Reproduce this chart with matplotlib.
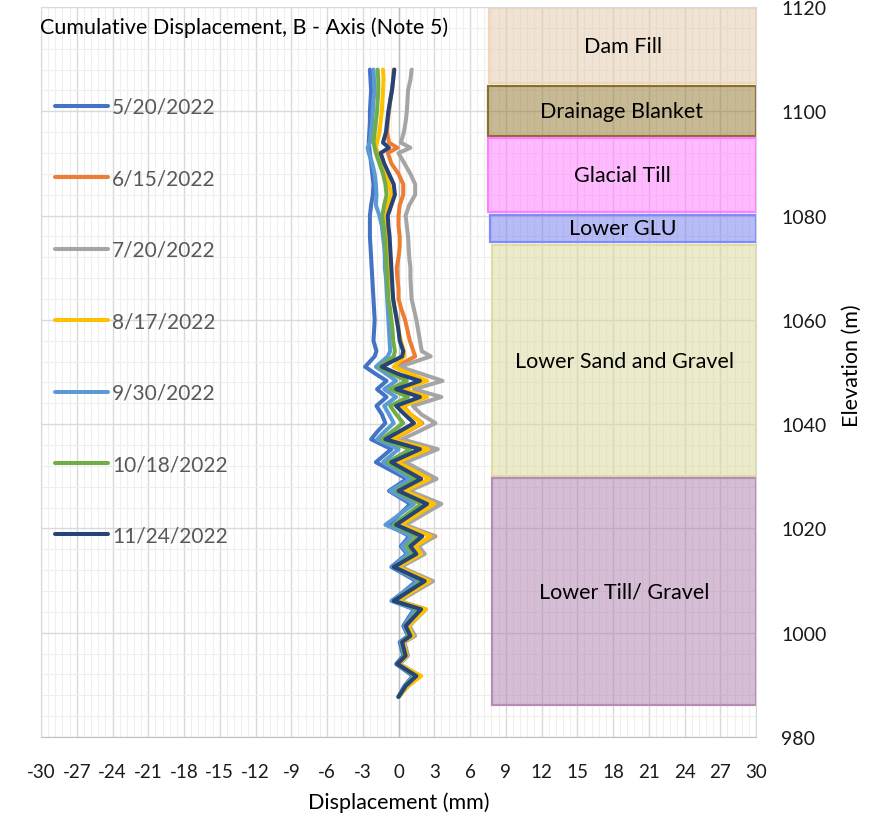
import matplotlib
matplotlib.use('Agg')
import matplotlib.pyplot as plt
from matplotlib.patches import Rectangle
from matplotlib.ticker import MultipleLocator

plt.rcParams['font.family'] = ['Lato', 'DejaVu Sans']

# ---------------- data ----------------
elevation = [1108, 1106, 1104, 1102, 1100, 1098, 1096, 1094, 1093, 1092,
             1090, 1088, 1086, 1084, 1082, 1080, 1078, 1076, 1074, 1072,
             1070, 1068, 1066, 1064, 1062, 1060, 1058, 1056, 1054, 1053,
             1051.0, 1049.6, 1048.3, 1046.7, 1045.2, 1043.5, 1041.9, 1040.2, 1038.5, 1037.1,
             1035.2, 1032.7, 1029.5, 1027.2, 1024.7, 1020.7, 1018.5, 1016.6, 1015.1, 1012.6,
             1009.9, 1006.1, 1004.5, 1001.3, 999.4, 998.2, 995.6, 994.0, 991.7, 989.8, 987.7]

d_0520 = [-2.40, -2.35, -2.30, -2.35, -2.40, -2.40, -2.45, -2.50, -2.45, -2.40,
          -2.30, -2.20, -2.10, -2.15, -2.30, -2.40, -2.40, -2.40, -2.35, -2.30,
          -2.25, -2.20, -2.15, -2.10, -2.05, -2.00, -2.05, -2.10, -1.85, -2.00,
          -2.80, -1.90, -1.00, -1.80, -1.00, -1.85, -1.40, -1.10, -1.80, -2.30,
          -0.60, -1.90, 0.70, -0.80, 1.00, -0.80, 0.90, 0.20, 0.70, -0.60,
          1.50, -0.50, 1.30, 0.40, 0.80, 0.10, 0.40, -0.20, 1.20, 0.50, 0.00]
d_0615 = [-0.40, -0.45, -0.55, -0.70, -0.80, -0.90, -0.95, -0.80, -0.10, -0.90,
          -0.60, 0.00, 0.40, 0.40, 0.10, 0.00, 0.00, 0.10, 0.10, 0.00,
          -0.15, -0.10, 0.00, 0.00, 0.25, 0.55, 0.75, 0.95, 1.25, 1.40,
          -0.20, 1.00, 2.10, 0.40, 2.20, 0.40, 1.00, 2.00, 0.70, -0.50,
          2.80, 0.00, 2.90, 0.50, 3.10, 0.30, 3.10, 1.50, 1.90, 0.00,
          2.70, -0.10, 2.20, 0.80, 1.20, 0.40, 0.70, 0.00, 1.80, 0.80, 0.00]
d_0720 = [1.10, 1.00, 0.80, 0.75, 0.70, 0.60, 0.45, 0.20, 1.00, 0.00,
          0.50, 1.00, 1.40, 1.40, 0.90, 0.60, 0.70, 0.80, 0.85, 0.90,
          1.00, 1.00, 1.05, 1.10, 1.30, 1.50, 1.65, 1.80, 1.95, 2.70,
          0.10, 2.00, 3.70, 1.30, 3.60, 1.20, 1.90, 3.10, 1.60, 0.30,
          3.30, 0.60, 3.20, 0.90, 3.60, 0.60, 3.00, 1.70, 2.20, 0.20,
          2.90, 0.10, 2.30, 0.90, 1.40, 0.50, 0.80, 0.10, 1.80, 0.80, 0.00]
d_0817 = [-1.30, -1.25, -1.30, -1.35, -1.40, -1.50, -1.60, -1.80, -1.90, -1.70,
          -1.50, -1.10, -0.80, -0.60, -0.90, -1.00, -0.95, -0.85, -0.80, -0.75,
          -0.70, -0.65, -0.55, -0.45, -0.30, -0.10, 0.00, 0.20, 0.45, 0.50,
          -0.40, 1.00, 2.40, 0.30, 2.40, 0.30, 1.00, 1.90, 0.60, -0.60,
          2.50, -0.10, 2.60, 0.50, 3.00, 0.20, 2.70, 1.40, 1.90, -0.10,
          2.60, -0.10, 2.30, 0.80, 1.20, 0.40, 0.70, 0.00, 1.90, 0.80, 0.00]
d_0930 = [-2.10, -2.05, -2.00, -2.10, -2.15, -2.20, -2.30, -2.40, -2.60, -2.50,
          -2.20, -2.00, -1.90, -1.85, -1.90, -1.60, -1.40, -1.30, -1.20, -1.15,
          -1.15, -1.05, -1.00, -0.95, -0.90, -0.85, -0.80, -0.75, -0.70, -0.90,
          -1.90, -1.00, -0.20, -1.20, -0.20, -1.20, -0.80, -0.40, -1.20, -1.80,
          0.00, -1.30, 1.00, -0.70, 1.30, -1.10, 1.10, 0.30, 0.80, -0.50,
          1.70, -0.60, 1.40, 0.50, 0.80, 0.20, 0.50, -0.10, 1.30, 0.50, 0.00]
d_1018 = [-1.75, -1.70, -1.70, -1.75, -1.80, -1.90, -2.00, -2.10, -2.00, -1.90,
          -1.60, -1.30, -1.10, -1.00, -1.20, -1.35, -1.25, -1.15, -1.10, -1.05,
          -1.00, -0.95, -0.90, -0.85, -0.70, -0.60, -0.50, -0.45, -0.30, -0.40,
          -1.60, -0.50, 0.70, -0.70, 0.80, -0.70, -0.20, 0.40, -0.60, -1.40,
          1.00, -0.90, 1.50, -0.20, 1.90, -0.40, 1.60, 0.70, 1.20, -0.30,
          2.00, -0.30, 1.70, 0.60, 0.90, 0.30, 0.50, -0.10, 1.40, 0.60, 0.00]
d_1124 = [-0.35, -0.45, -0.55, -0.70, -0.85, -0.95, -1.05, -1.30, -0.80, -1.50,
          -1.20, -0.80, -0.40, -0.30, -0.60, -0.90, -0.85, -0.75, -0.70, -0.65,
          -0.60, -0.55, -0.50, -0.45, -0.30, -0.15, 0.00, 0.10, 0.40, 0.30,
          -1.40, 0.00, 1.80, -0.20, 1.80, -0.20, 0.50, 1.30, 0.00, -1.10,
          1.80, -0.60, 1.90, 0.00, 2.40, -0.20, 2.00, 1.00, 1.50, -0.40,
          2.20, -0.40, 1.90, 0.60, 1.00, 0.30, 0.60, -0.10, 1.50, 0.60, 0.00]

series_labels = ['5/20/2022', '6/15/2022', '7/20/2022', '8/17/2022',
                 '9/30/2022', '10/18/2022', '11/24/2022']
series_values = [d_0520, d_0615, d_0720, d_0817, d_0930, d_1018, d_1124]
series_colors = ['#4472C4', '#ED7D31', '#A5A5A5', '#FFC000',
                 '#5B9BD5', '#70AD47', '#264478']

layer_names = ['Dam Fill', 'Drainage Blanket', 'Glacial Till', 'Lower GLU',
               'Lower Sand and Gravel', 'Lower Till/ Gravel']
layer_top = [1119.8, 1104.9, 1094.8, 1080.2, 1074.4, 1029.7]
layer_bottom = [1105.4, 1095.2, 1080.7, 1075.0, 1030.0, 986.1]
layer_left = [7.6, 7.5, 7.5, 7.7, 7.85, 7.85]
layer_right = [30.0, 30.0, 30.0, 30.0, 30.0, 30.0]
layer_face = ['#E5C9A9', '#93752D', '#FF77FF', '#717BF1', '#D9D999', '#AD7DAD']
layer_edge = ['#EED6B8', '#8C6E2D', '#FF80FF', '#7D8CFA', '#DEDEA0', '#B58CB5']

x_ticks = list(range(-30, 31, 3))
y_ticks = list(range(980, 1121, 20))

# ---------------- figure ----------------
W, H = 883, 820
fig = plt.figure(figsize=(W / 100, H / 100), dpi=100)
ax = fig.add_axes([41 / W, 1 - 738 / H, 715 / W, 730 / H])
ax.set_xlim(-30, 30)
ax.set_ylim(980, 1120)

ax.xaxis.set_major_locator(MultipleLocator(3))
ax.xaxis.set_minor_locator(MultipleLocator(0.6))
ax.yaxis.set_major_locator(MultipleLocator(20))
ax.yaxis.set_minor_locator(MultipleLocator(4))
ax.grid(which='major', color='#D9D9D9', lw=1.0)
ax.grid(which='minor', color='#EFEFEF', lw=0.8)
ax.set_xticks(x_ticks)
ax.set_xticklabels([str(v) for v in x_ticks])
ax.set_yticks(y_ticks)
ax.yaxis.tick_right()
ax.tick_params(which='both', length=0)
ax.tick_params(axis='x', pad=19, labelsize=13.5, labelcolor='#1a1a1a')
ax.tick_params(axis='y', pad=18, labelsize=14, labelcolor='#1a1a1a')

for s in ['left', 'right', 'top']:
    ax.spines[s].set_color('#D9D9D9')
ax.spines['bottom'].set_color('#BFBFBF')
ax.axvline(0, color='#BFBFBF', lw=1.0, zorder=1.55)

# layers
for name, t, b, l, r, fc, ec in zip(layer_names, layer_top, layer_bottom,
                                     layer_left, layer_right, layer_face, layer_edge):
    ax.add_patch(Rectangle((l, b), r - l, t - b, facecolor=fc, alpha=0.5,
                           edgecolor='none', zorder=1.6))
    ax.add_patch(Rectangle((l, b), r - l, t - b, facecolor='none',
                           edgecolor=ec, lw=1.6, zorder=1.7))
    ax.text((l + r) / 2, (t + b) / 2, name, ha='center', va='center',
            fontsize=15.5, color='#000000', zorder=5)

# series
for i, (lab, vals, col) in enumerate(zip(series_labels, series_values, series_colors)):
    ax.plot(vals, elevation, color=col, lw=2.9, label=lab,
            solid_joinstyle='round', solid_capstyle='round', zorder=3 + i)

leg = ax.legend(loc='upper left', bbox_to_anchor=(55 / W, 1 - 98 / H),
                bbox_transform=fig.transFigure, frameon=False, fontsize=15,
                handlelength=2.55, handletextpad=0.2, labelspacing=2.47,
                borderpad=0, borderaxespad=0)
for t in leg.get_texts():
    t.set_color('#595959')

fig.text(40 / W, 1 - 28 / H, 'Cumulative Displacement, B - Axis (Note 5)',
         ha='left', va='center', fontsize=15.5, color='#000000')
fig.text(398.5 / W, 1 - 803 / H, 'Displacement (mm)', ha='center', va='center',
         fontsize=15.5, color='#000000')
fig.text(852 / W, 1 - 366 / H, 'Elevation (m)', ha='center', va='center',
         rotation=90, fontsize=15.5, color='#000000')

fig.savefig('out.png', dpi=100)
